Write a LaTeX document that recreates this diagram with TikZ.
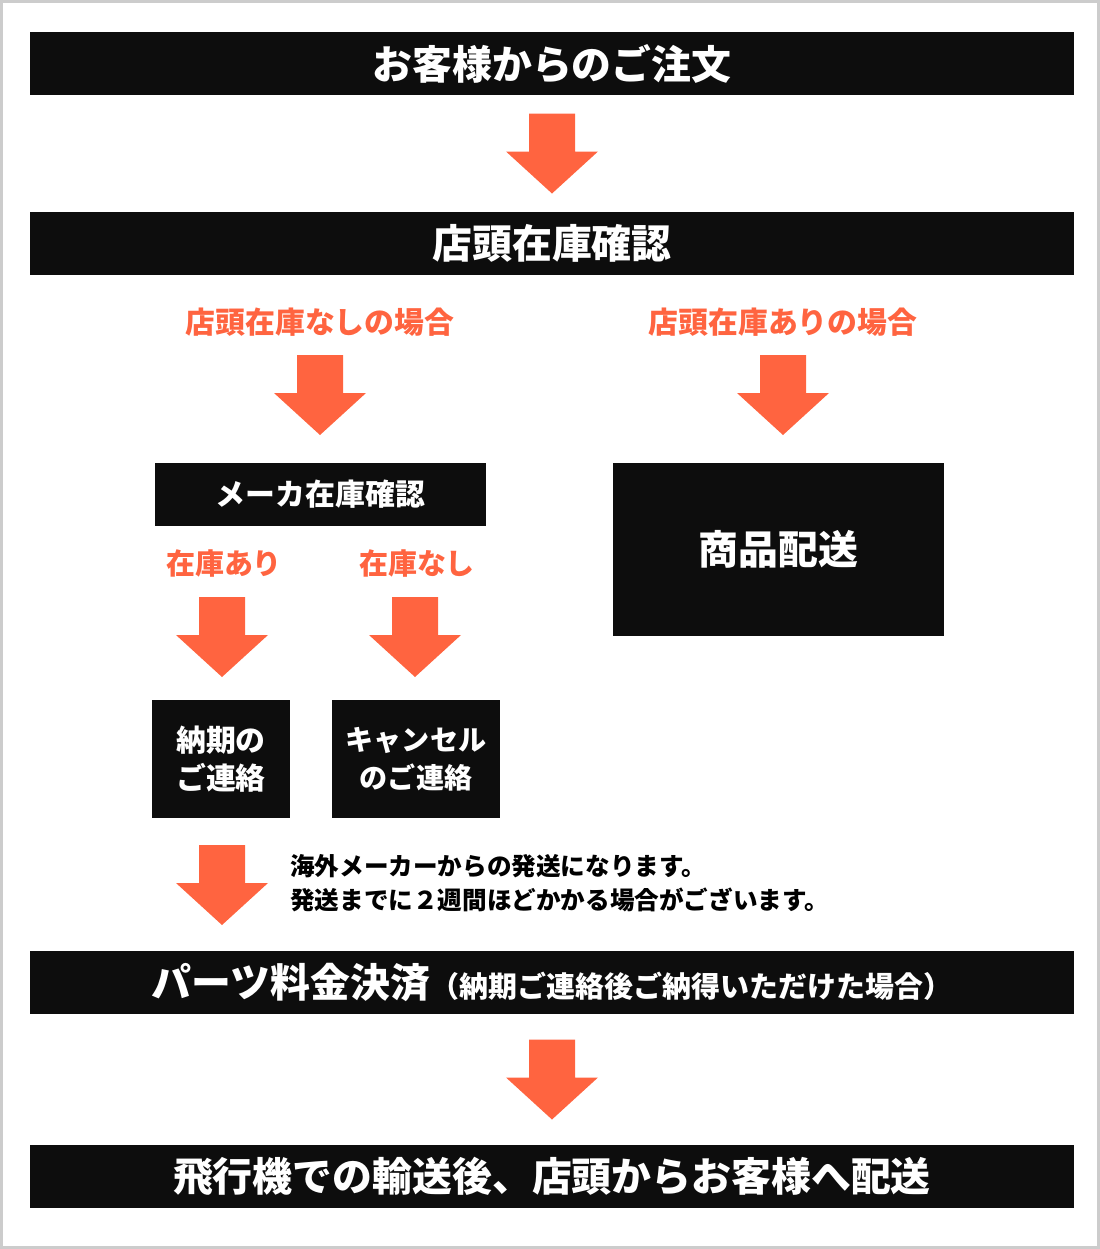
\documentclass[tikz,border=0pt]{standalone}
\usepackage{fontspec}
\setmainfont{Noto Sans CJK JP}
\usetikzlibrary{calc}
\definecolor{barblack}{HTML}{0D0D0D}
\definecolor{arroworange}{HTML}{FF6440}
\definecolor{framegray}{HTML}{CCCCCC}
\tikzset{
  bar/.style={fill=barblack, text=white, font=\bfseries\fontsize{22.7}{26}\selectfont,
    minimum width=20.88cm, minimum height=1.26cm, inner sep=0pt},
  box/.style={fill=barblack, text=white, align=center, inner sep=0pt},
  label/.style={text=arroworange, font=\bfseries\fontsize{16.5}{20}\selectfont, inner sep=0pt},
  note/.style={font=\bfseries\fontsize{14}{19.3}\selectfont, align=left, inner sep=0pt},
  downarrow/.pic={
    \fill[arroworange] (-23,-40) -- (23,-40) -- (23,-2) -- (46,-2) -- (0,40)
      -- (-46,-2) -- (-23,-2) -- cycle;
  }
}
\begin{document}
\begin{tikzpicture}[x=0.02cm,y=-0.02cm]
\useasboundingbox (0,0) rectangle (1100,1249);
\draw[framegray, line width=0.06cm] (1.5,1.5) rectangle (1098.5,1247.5);
% main flow
\node[bar] (order) at (552,63.5) {お客様からのご注文};
\node[bar] (shopcheck) at (552,243.5) {店頭在庫確認};
\pic at ($(order.south)!0.5!(shopcheck.north)$) {downarrow};
% two cases
\node[label, font=\bfseries\fontsize{17}{20}\selectfont] (nostock) at (320,322) {店頭在庫なしの場合};
\node[label, font=\bfseries\fontsize{17}{20}\selectfont] (instock) at (783,322) {店頭在庫ありの場合};
\pic at (320,395) {downarrow};
\pic at (783,395) {downarrow};
\node[box, font=\bfseries\fontsize{17}{20}\selectfont, minimum width=6.62cm, minimum height=1.26cm]
  (maker) at (320.5,494.5) {メーカ在庫確認};
\node[box, font=\bfseries\fontsize{22.7}{26}\selectfont, minimum width=6.62cm, minimum height=3.46cm]
  (delivery) at (778.5,549.5) {商品配送};
% maker stock
\node[label] (makeryes) at (224,563) {在庫あり};
\node[label] (makerno) at (417,563) {在庫なし};
\pic at (222,637) {downarrow};
\pic at (415,637) {downarrow};
\node[box, font=\bfseries\fontsize{17}{21.5}\selectfont, minimum width=2.76cm, minimum height=2.36cm]
  (duedate) at (221,759) {納期の\\ご連絡};
\node[box, font=\bfseries\fontsize{16}{21.5}\selectfont, minimum width=3.36cm, minimum height=2.36cm]
  (cancel) at (416,759) {キャンセル\\のご連絡};
\pic at (222,885) {downarrow};
\node[note, anchor=west] (shipnote) at (290,883) {海外メーカーからの発送になります。\\発送までに２週間ほどかかる場合がございます。};
% payment and shipping
\node[bar] (payment) at (552,982.5) {パーツ料金決済{\fontsize{16.5}{20}\selectfont（納期ご連絡後ご納得いただけた場合）}};
\node[bar] (shipping) at (552,1176.5) {飛行機での輸送後、店頭からお客様へ配送};
\pic at ($(payment.south)!0.5!(shipping.north)$) {downarrow};
\end{tikzpicture}
\end{document}
